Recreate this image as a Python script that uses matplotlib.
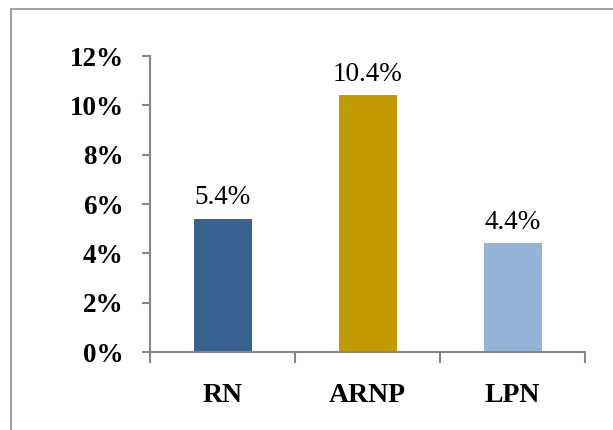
import matplotlib
matplotlib.use("Agg")
import matplotlib.pyplot as plt
from matplotlib.patches import Rectangle
from matplotlib.ticker import FuncFormatter

categories = ["RN", "ARNP", "LPN"]
values = [5.4, 10.4, 4.4]
bar_colors = ["#38618F", "#C29A00", "#95B3D7"]
axis_gray = "#878787"

plt.rcParams['font.family'] = ['Liberation Serif', 'DejaVu Serif']

fig = plt.figure(figsize=(6.13, 4.30), dpi=100)
ax = fig.add_axes([150/613, 78/430, 435/613, 296/430])

x = list(range(len(categories)))
ax.bar(x, values, width=0.4, color=bar_colors, zorder=1)

for xi, v in zip(x, values):
    ax.text(xi, v + 0.35, f"{v:.1f}%", ha="center", va="bottom", fontsize=19.5)

ax.set_xlim(-0.5, 2.5)
ax.set_ylim(0, 12)
ax.set_yticks(range(0, 13, 2))
ax.yaxis.set_major_formatter(FuncFormatter(lambda v, p: f"{int(v)}%"))

ax.set_xticks(x)
ax.set_xticklabels(categories, fontsize=20, fontweight="bold")
ax.set_xticks([-0.5, 0.5, 1.5, 2.5], minor=True)
ax.tick_params(axis="x", which="major", length=0, pad=22)
ax.tick_params(axis="x", which="minor", length=8, width=1.5, color=axis_gray, direction="out")
ax.tick_params(axis="y", length=6, width=1.5, color=axis_gray, direction="out", pad=13, labelsize=19.5)
for lbl in ax.get_yticklabels():
    lbl.set_fontweight("bold")

for s in ["top", "right"]:
    ax.spines[s].set_visible(False)
for s in ["left", "bottom"]:
    ax.spines[s].set_color(axis_gray)
    ax.spines[s].set_linewidth(1.5)
    ax.spines[s].set_zorder(3)

# outer chart border (partly cut by the picture edge)
fig.patches.append(Rectangle((11/613, -0.1), 1.0, 1.0 - 9/430 + 0.1, transform=fig.transFigure,
                             fill=False, edgecolor="#8C8C8C", linewidth=1.2))

fig.savefig("out.png", dpi=100)
